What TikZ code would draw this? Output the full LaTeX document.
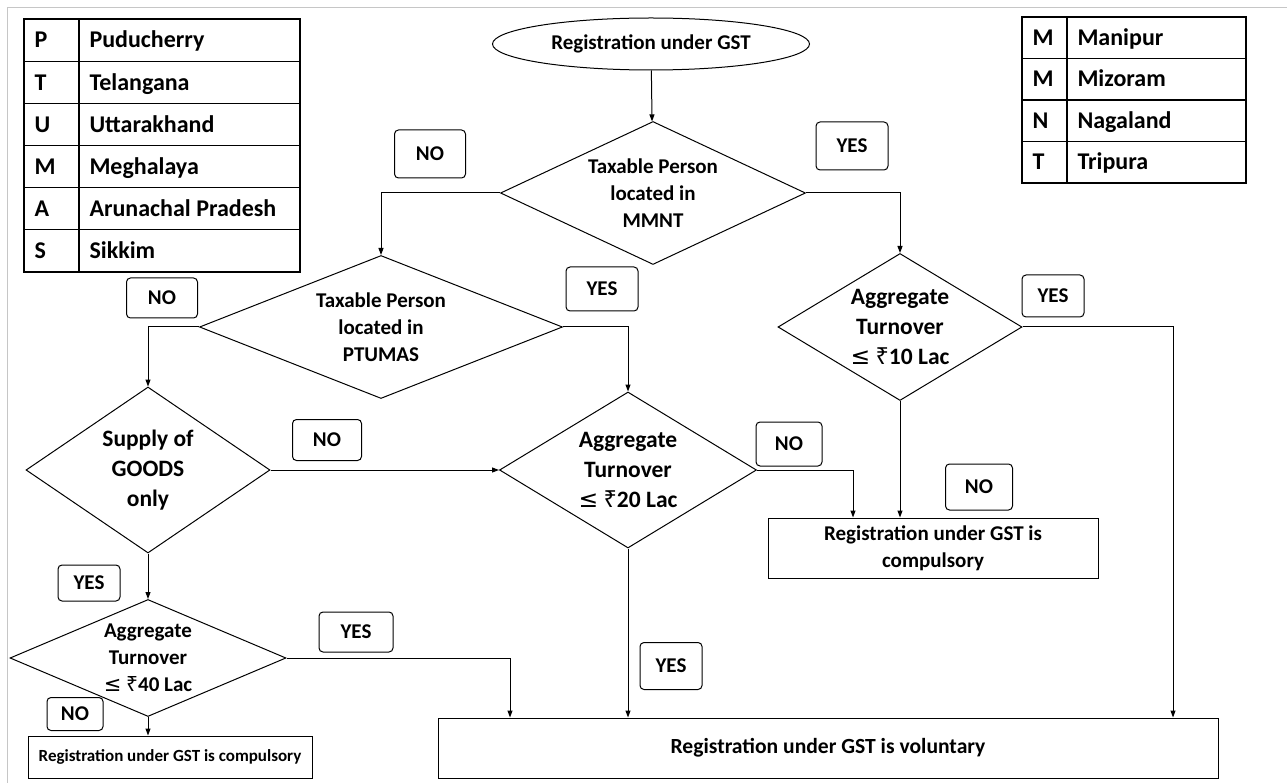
\documentclass[tikz,border=0pt]{standalone}
\usepackage{fontspec}
\setmainfont{Carlito}
\newfontfamily\symfont{Noto Sans}
\newfontfamily\lefont{DejaVu Sans}
\usetikzlibrary{shapes.geometric,arrows.meta}
\newcommand{\upto}[1]{{\lefont\mdseries ≤} {\symfont ₹}#1 Lac}

\begin{document}
\begin{tikzpicture}[x=1pt,y=-1pt,line width=1pt,
	txt/.style={font=\fontsize{21}{27}\selectfont\bfseries, align=center},
	dec/.style={draw, diamond, inner sep=0pt, label={[txt]center:{#1}}},
	decl/.style={draw, diamond, inner sep=0pt, label={[txt, font=\fontsize{23.5}{30}\selectfont\bfseries]center:{#1}}},
	box/.style={draw, rectangle, inner sep=0pt, txt},
	ans/.style={draw, rounded corners=4pt, inner sep=0pt, txt},
	flow/.style={-{Triangle[length=7pt,width=5pt]}},
	tab/.style={font=\fontsize{24}{28}\selectfont\bfseries, anchor=base west, inner sep=0pt}]
	\useasboundingbox (0,0) rectangle (1287,783);
	\draw[gray!45] (7,783) -- (7,8) -- (1287,8);
	% legend PTUMAS
	\draw[line width=1.2pt] (24,19) rectangle (300,272);
	\draw[line width=1.2pt] (79,19) -- (79,272);
	\foreach \i in {1,...,5} \draw[line width=1.2pt] (24,19+42.17*\i) -- (300,19+42.17*\i);
	\foreach \ab/\st [count=\i from 0] in {P/Puducherry,T/Telangana,U/Uttarakhand,M/Meghalaya,A/Arunachal Pradesh,S/Sikkim} {
		\node[tab] (pab\i) at (34,19+42.17*\i+29) {\ab};
		\node[tab] (pst\i) at (89,19+42.17*\i+29) {\st};
	}
	% legend MMNT
	\draw[line width=1.2pt] (1022,17) rectangle (1246,183);
	\draw[line width=1.2pt] (1067,17) -- (1067,183);
	\foreach \i in {1,2,3} \draw[line width=1.2pt] (1022,17+41.5*\i) -- (1246,17+41.5*\i);
	\foreach \ab/\st [count=\i from 0] in {M/Manipur,M/Mizoram,N/Nagaland,T/Tripura} {
		\node[tab] (mab\i) at (1032,17+41.5*\i+28.5) {\ab};
		\node[tab] (mst\i) at (1077,17+41.5*\i+28.5) {\st};
	}
	% decisions
	\node[draw, ellipse, inner sep=0pt, minimum width=317, minimum height=52, txt] (start) at (651,44) {Registration under GST};
	\node[dec={Taxable Person\\located in\\MMNT}, minimum width=305, minimum height=143] (mmnt) at (653,193) {};
	\node[dec={Taxable Person\\located in\\PTUMAS}, minimum width=363, minimum height=143] (ptumas) at (381,327) {};
	\node[decl={Aggregate\\Turnover\\\upto{10}}, minimum width=244, minimum height=147] (upten) at (900,327) {};
	\node[decl={Supply of\\GOODS\\only}, minimum width=244, minimum height=166] (goods) at (148,470) {};
	\node[decl={Aggregate\\Turnover\\\upto{20}}, minimum width=257, minimum height=156] (uptwenty) at (628,470) {};
	\node[dec={Aggregate\\Turnover\\\upto{40}}, minimum width=276, minimum height=117] (upforty) at (148,658) {};
	% results
	\node[box, minimum width=330, minimum height=60] (compr) at (933,548) {Registration under GST is\\compulsory};
	\node[box, minimum width=284, minimum height=42, font=\fontsize{17}{20}\selectfont\bfseries] (compl) at (170,757) {Registration under GST is compulsory};
	\node[box, minimum width=780, minimum height=60, font=\fontsize{21.6}{27}\selectfont\bfseries] (vol) at (828,748) {Registration under GST is voluntary};
	% connectors
	\draw[flow] (start) -- (mmnt);
	\draw[flow] (mmnt.west) -| (ptumas.north);
	\draw[flow] (mmnt.east) -| (upten.north);
	\draw[flow] (ptumas.west) -| (goods.north);
	\draw[flow] (ptumas.east) -| (uptwenty.north);
	\draw[flow] (goods.east) -- (uptwenty.west);
	\draw[flow] (goods.south) -- (upforty.north);
	\draw[flow] (uptwenty.east) -| ([xshift=-80]compr.north);
	\draw[flow] (upten.south) -- (upten.south |- compr.north);
	\draw[flow] (upten.east) -| ([xshift=345]vol.north);
	\draw[flow] (uptwenty.south) -- (uptwenty.south |- vol.north);
	\draw[flow] (upforty.east) -| ([xshift=-318]vol.north);
	\draw[flow] (upforty.south) -- (upforty.south |- compl.north);
	% answers
	\node[ans, minimum width=71, minimum height=48] (nommnt) at (430,154) {NO};
	\node[ans, minimum width=72, minimum height=48] (yesmmnt) at (852,146) {YES};
	\node[ans, minimum width=71, minimum height=40] (noptumas) at (162,298) {NO};
	\node[ans, minimum width=72, minimum height=44] (yesptumas) at (602,289) {YES};
	\node[ans, minimum width=69, minimum height=41] (nogoods) at (327,440) {NO};
	\node[ans, minimum width=66, minimum height=44] (notwenty) at (789,444) {NO};
	\node[ans, minimum width=67, minimum height=46] (noten) at (979,487) {NO};
	\node[ans, minimum width=62, minimum height=42] (yesten) at (1053,296) {YES};
	\node[ans, minimum width=62, minimum height=47] (yestwenty) at (671,666) {YES};
	\node[ans, minimum width=62, minimum height=36] (yesgoods) at (89,583) {YES};
	\node[ans, minimum width=74, minimum height=40] (yesforty) at (356,632) {YES};
	\node[ans, minimum width=56, minimum height=33] (noforty) at (75,714) {NO};
\end{tikzpicture}
\end{document}
